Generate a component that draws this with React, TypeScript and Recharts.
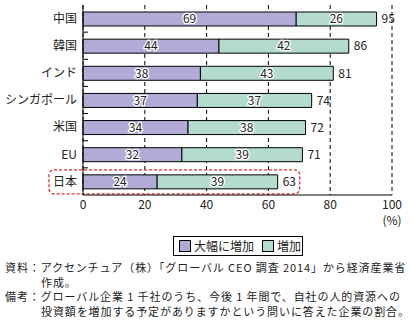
import React from "react";
import { Bar, BarChart, CartesianGrid, LabelList, Rectangle, XAxis, YAxis } from "recharts";

const countries: string[] = ["中国", "韓国", "インド", "シンガポール", "米国", "EU", "日本"];
const bigIncrease: number[] = [69, 44, 38, 37, 34, 32, 24];
const increase: number[] = [26, 42, 43, 37, 38, 39, 39];
const totals: number[] = [95, 86, 81, 74, 72, 71, 63];
const xTicks: number[] = [0, 20, 40, 60, 80, 100];
const highlighted = "日本";

const PURPLE = "#b3abd7";
const TEAL = "#b3dccf";
const FONT = '"Noto Sans CJK JP", "Noto Sans", sans-serif';

const data = countries.map((name, i) => ({
  name,
  big: bigIncrease[i],
  inc: increase[i],
  total: totals[i],
  highlight: name === highlighted,
}));

function CountryTick(props: any) {
  const { x, y, payload, index } = props;
  const step = 190 / countries.length;
  return (
    <g>
      <text x={x} y={y} dy="0.36em" textAnchor="end" fontSize={12} fill="#222" fontFamily={FONT}>
        {payload.value}
      </text>
      {index > 0 && <line x1={x + 6} x2={x + 11} y1={y - step / 2} y2={y - step / 2} stroke="#000" />}
    </g>
  );
}

function PercentTick(props: any) {
  const { x, y, payload } = props;
  return (
    <g>
      <text x={x} y={y} dy="0.71em" textAnchor="middle" fontSize={12} fill="#222" fontFamily={FONT}>
        {payload.value}
      </text>
      {payload.value === 100 && (
        <text x={x} y={y + 16} dy="0.71em" textAnchor="middle" fontSize={12} fill="#222" fontFamily={FONT}>
          (%)
        </text>
      )}
    </g>
  );
}

function HaloLabel(props: any) {
  const { x, y, width, height, value } = props;
  return (
    <text
      x={x + width / 2}
      y={y + height / 2}
      dy="0.36em"
      textAnchor="middle"
      fontSize={12}
      fill="#222"
      stroke="#fff"
      strokeWidth={2.5}
      paintOrder="stroke"
      fontFamily={FONT}
    >
      {value}
    </text>
  );
}

function BigBar(props: any) {
  const { x, y, width, height, payload } = props;
  const perUnit = width / payload.big;
  return (
    <g>
      <Rectangle {...props} />
      {payload.highlight && (
        <rect
          x={x - 34}
          y={y - 5}
          width={34 + payload.total * perUnit + 22}
          height={height + 10}
          rx={5}
          fill="none"
          stroke="#e8312a"
          strokeWidth={1.3}
          strokeDasharray="3 2"
        />
      )}
    </g>
  );
}

export default function App() {
  return (
    <div style={{ position: "absolute", left: 0, top: 0, width: 412, height: 321, background: "#fff", fontFamily: FONT }}>
      <BarChart
        width={412}
        height={232}
        data={data}
        layout="vertical"
        margin={{ top: 5, right: 20, left: 0, bottom: 0 }}
        barCategoryGap={0}
      >
        <CartesianGrid horizontal={false} stroke="#000" strokeDasharray="4 3" />
        <XAxis
          type="number"
          domain={[0, 100]}
          ticks={xTicks}
          tickLine={false}
          tickSize={0}
          tickMargin={5}
          axisLine={{ stroke: "#000" }}
          height={37}
          tick={<PercentTick />}
          interval={0}
        />
        <XAxis xAxisId="top" type="number" domain={[0, 100]} orientation="top" height={0} tick={false} tickLine={false} axisLine={{ stroke: "#000" }} />
        <YAxis
          type="category"
          dataKey="name"
          width={83}
          tickLine={false}
          tickSize={0}
          tickMargin={6}
          axisLine={{ stroke: "#000" }}
          tick={<CountryTick />}
          interval={0}
        />
        <YAxis yAxisId="right" type="category" dataKey="name" orientation="right" width={0} tick={false} tickLine={false} axisLine={{ stroke: "#000" }} />
        <Bar dataKey="big" stackId="a" fill={PURPLE} stroke="#000" strokeWidth={1} barSize={14} isAnimationActive={false} shape={<BigBar />}>
          <LabelList dataKey="big" content={<HaloLabel />} />
        </Bar>
        <Bar dataKey="inc" stackId="a" fill={TEAL} stroke="#000" strokeWidth={1} barSize={14} isAnimationActive={false}>
          <LabelList dataKey="inc" content={<HaloLabel />} />
          <LabelList dataKey="total" position="right" offset={5} fontSize={12} fill="#222" fontFamily={FONT} />
        </Bar>
      </BarChart>
      <div
        style={{
          position: "absolute",
          left: 173,
          top: 236,
          width: 128,
          height: 18,
          border: "1px solid #000",
          display: "flex",
          alignItems: "center",
          fontSize: 12,
          color: "#222",
          lineHeight: "18px",
        }}
      >
        <span style={{ width: 10, height: 10, background: PURPLE, border: "1px solid #000", marginLeft: 5, marginRight: 3 }} />
        <span>大幅に増加</span>
        <span style={{ width: 10, height: 10, background: TEAL, border: "1px solid #000", marginLeft: 8, marginRight: 3 }} />
        <span>増加</span>
      </div>
      <div
        style={{
          position: "absolute",
          left: 5,
          top: 260,
          width: 407,
          fontSize: 11,
          color: "#222",
          lineHeight: "14.5px",
          letterSpacing: 0.9,
          whiteSpace: "nowrap",
        }}
      >
        <div style={{ paddingLeft: 36, textIndent: -36 }}>
          資料：アクセンチュア（株）「グローバル CEO 調査 2014」から経済産業省
          <br />
          作成。
        </div>
        <div style={{ paddingLeft: 36, textIndent: -36 }}>
          備考：グローバル企業 1 千社のうち、今後 1 年間で、自社の人的資源への
          <br />
          投資額を増加する予定がありますかという問いに答えた企業の割合。
        </div>
      </div>
    </div>
  );
}
